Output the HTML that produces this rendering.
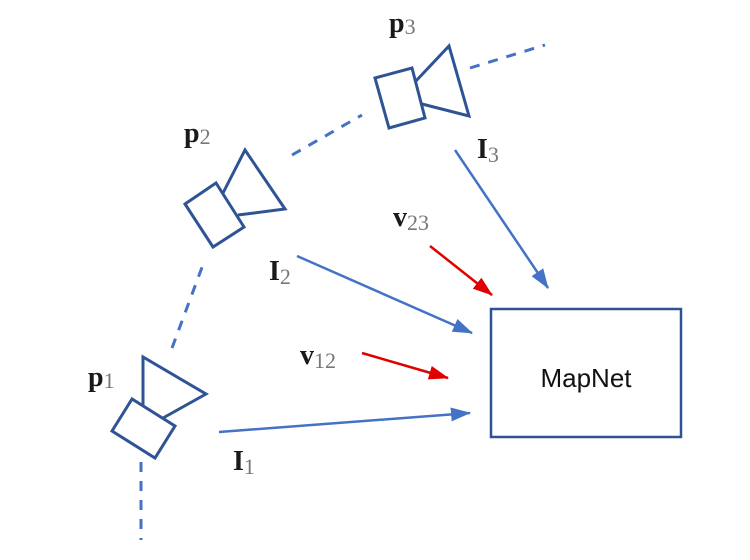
<!DOCTYPE html>
<html><head><meta charset="utf-8"><style>
body{margin:0;background:#fff}
svg{display:block}
.lb{font-family:"Liberation Serif","DejaVu Serif",serif;font-weight:bold;font-size:28px;fill:#1a1a1a}
.sb{font-family:"Liberation Serif","DejaVu Serif",serif;font-weight:normal;font-size:22px;fill:#777}
</style></head><body>
<svg width="750" height="560" viewBox="0 0 750 560">
<defs>
<marker id="ab" markerWidth="20" markerHeight="14" refX="19" refY="7" orient="auto" markerUnits="userSpaceOnUse" viewBox="0 0 20 14"><path d="M0,0 L20,7 L0,14 z" fill="#4472c4"/></marker>
<marker id="ar" markerWidth="20" markerHeight="14" refX="19" refY="7" orient="auto" markerUnits="userSpaceOnUse" viewBox="0 0 20 14"><path d="M0,0 L20,7 L0,14 z" fill="#e00000"/></marker>
</defs>
<g stroke="#4472c4" stroke-width="3" stroke-dasharray="10,9" fill="none">
<line x1="141" y1="462" x2="141" y2="540"/>
<line x1="172" y1="348" x2="204" y2="262"/>
<line x1="292" y1="155" x2="362" y2="115"/>
<line x1="470" y1="68" x2="545" y2="45"/>
</g>
<g stroke="#2f5496" stroke-width="3" fill="none" stroke-linejoin="miter">
<g>
<polygon points="112,431 132,399 175,426 155,458"/>
<polyline points="143,405 143,357 206,394 163,418"/>
</g>
<g>
<polygon points="185,204 216,183 244,227 213,247"/>
<polyline points="223,193 245,150 285,209 238,215"/>
</g>
<g>
<polygon points="375,78 412,68 425,118 389,128"/>
<polyline points="415,82 449,46 469,116 422,104"/>
</g>
</g>
<g stroke="#4472c4" stroke-width="2.5">
<line x1="219" y1="432" x2="470" y2="413" marker-end="url(#ab)"/>
<line x1="297" y1="256" x2="472" y2="333" marker-end="url(#ab)"/>
<line x1="455" y1="150" x2="548" y2="288" marker-end="url(#ab)"/>
</g>
<g stroke="#e00000" stroke-width="2.5">
<line x1="362" y1="353" x2="448" y2="378" marker-end="url(#ar)"/>
<line x1="430" y1="246" x2="492" y2="295" marker-end="url(#ar)"/>
</g>
<rect x="491" y="309" width="190" height="128" fill="#fff" stroke="#2f5496" stroke-width="2.5"/>
<text x="586" y="387" text-anchor="middle" font-family="Liberation Sans, sans-serif" font-size="26" fill="#111">MapNet</text>
<text x="88" y="386" class="lb">p<tspan class="sb" dy="2">1</tspan></text>
<text x="184" y="142" class="lb">p<tspan class="sb" dy="2">2</tspan></text>
<text x="389" y="32" class="lb">p<tspan class="sb" dy="2">3</tspan></text>
<text x="233" y="470" class="lb">I<tspan class="sb" dy="4">1</tspan></text>
<text x="269" y="280" class="lb">I<tspan class="sb" dy="4">2</tspan></text>
<text x="477" y="158" class="lb">I<tspan class="sb" dy="4">3</tspan></text>
<text x="393" y="226" class="lb">v<tspan class="sb" dy="4">23</tspan></text>
<text x="300" y="364" class="lb">v<tspan class="sb" dy="4">12</tspan></text>
</svg>
</body></html>
